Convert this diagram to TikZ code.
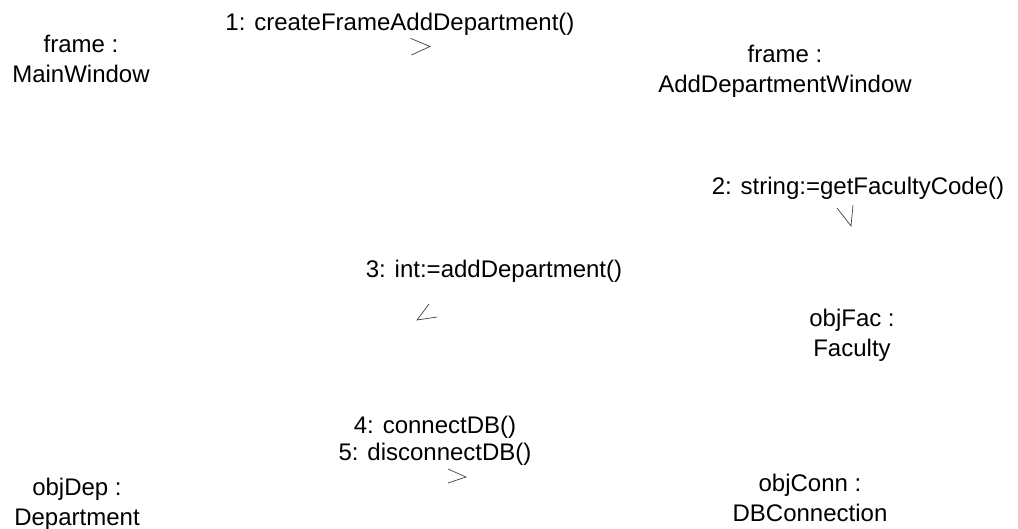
\documentclass[tikz,border=0pt]{standalone}
\usepackage{fontspec}
\setmainfont{Liberation Sans}
\begin{document}
\begin{tikzpicture}[x=1pt,y=-1pt,
  obj/.style={inner sep=0pt, align=center, anchor=base,
    font=\fontsize{24}{30}\selectfont},
  msg/.style={inner sep=0pt, align=center, anchor=base,
    font=\fontsize{24}{27}\selectfont},
  msgtip/.style={draw=black!75, line width=0.7pt, line join=miter}]
\useasboundingbox (0,0) rectangle (1018,529);

% objects (node base = baseline of the last line)
\node[obj] (main) at (81,83) {frame :\\MainWindow};
\node[obj] (adw) at (785,93) {frame :\\AddDepartmentWindow};
\node[obj] (fac) at (852,357) {objFac :\\Faculty};
\node[obj] (dep) at (77,525) {objDep :\\Department};
\node[obj] (conn) at (810,521) {objConn :\\DBConnection};

% messages
\node[msg] (m1) at (400,31) {1: createFrameAddDepartment()};
\node[msg] (m2) at (858,195) {2: string:=getFacultyCode()};
\node[msg] (m3) at (494,278) {3: int:=addDepartment()};
\node[msg] (m45) at (435,460) {4: connectDB()\\5: disconnectDB()};

% direction marks of the messages
\coordinate (t1) at (430,46.5);
\coordinate (t2) at (851,226);
\coordinate (t3) at (417,320);
\coordinate (t45) at (466,477);
\draw[msgtip] (410.5,38.3) -- (t1) -- (411.5,55);
\draw[msgtip] (837,208) -- (t2) -- (853,205);
\draw[msgtip] (429,304) -- (t3) -- (437,317);
\draw[msgtip] (448,469) -- (t45) -- (448,483);
\end{tikzpicture}
\end{document}
